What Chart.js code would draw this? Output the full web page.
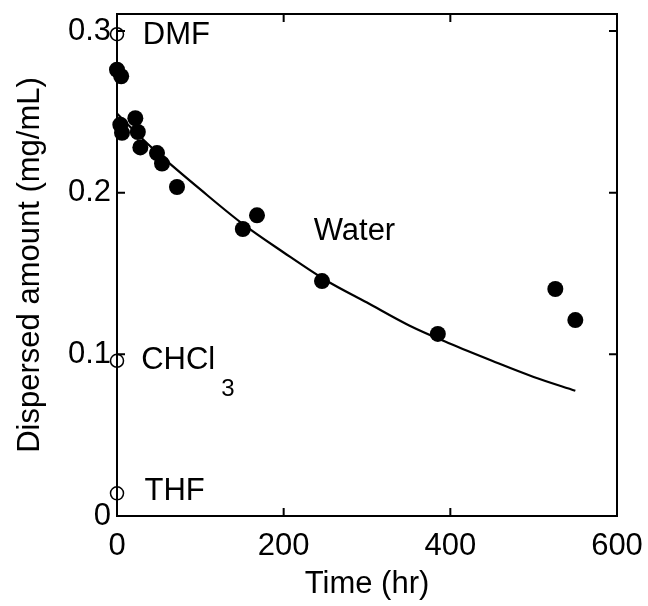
<!DOCTYPE html>
<html>
<head>
<meta charset="utf-8">
<script src="https://cdn.jsdelivr.net/npm/chart.js@4.4.1/dist/chart.umd.min.js"></script>
<style>
  html, body { margin: 0; padding: 0; background: #fff; }
</style>
</head>
<body>
<canvas id="myChart" width="648" height="606"></canvas>
<script>
// dispersed amount in water vs time (filled dots)
const waterTime = [0, 5, 4, 6, 22, 25, 28, 48, 54, 72, 151, 168, 246, 385, 526, 550];
const waterAmount = [0.276, 0.272, 0.242, 0.237, 0.246, 0.2375, 0.228, 0.2245, 0.218, 0.2035, 0.1775, 0.186, 0.1453, 0.1126, 0.1404, 0.1212];

// organic solvents at t = 0 (open circles)
const solventNames = ["DMF", "CHCl", "THF"];
const solventTime = [0, 0, 0];
const solventAmount = [0.298, 0.096, 0.014];

// fitted curve
const fitTime = [0, 25, 50, 100, 150, 200, 250, 300, 350, 400, 450, 500, 550];
const fitAmount = [0.249, 0.236, 0.224, 0.202, 0.181, 0.163, 0.146, 0.132, 0.118, 0.1065, 0.096, 0.086, 0.0775];

const xTicks = [0, 200, 400, 600];
const yTicks = [0, 0.1, 0.2, 0.3];
const yTickLabels = ["0", "0.1", "0.2", "0.3"];

const FONT = "'Liberation Sans', Arial, Helvetica, sans-serif";

function pts(xs, ys) {
  return xs.map((x, i) => ({ x: x, y: ys[i] }));
}

// frame with inward ticks on all four sides, plus the text labels
const framePlugin = {
  id: "frame",
  afterDraw(chart) {
    const c = chart.ctx;
    const a = chart.chartArea;
    const xs = chart.scales.x;
    const ys = chart.scales.y;
    c.save();
    c.strokeStyle = "#000";
    c.lineWidth = 2;
    c.strokeRect(a.left, a.top, a.right - a.left, a.bottom - a.top);
    c.beginPath();
    xTicks.forEach((v) => {
      const px = xs.getPixelForValue(v);
      c.moveTo(px, a.bottom);
      c.lineTo(px, a.bottom - 8);
      c.moveTo(px, a.top);
      c.lineTo(px, a.top + 8);
    });
    yTicks.forEach((v) => {
      const py = ys.getPixelForValue(v);
      c.moveTo(a.left, py);
      c.lineTo(a.left + 8, py);
      c.moveTo(a.right, py);
      c.lineTo(a.right - 8, py);
    });
    c.stroke();

    c.fillStyle = "#000";
    c.textBaseline = "middle";
    c.textAlign = "left";
    c.font = "31px " + FONT;
    c.fillText(solventNames[0], xs.getPixelForValue(31), ys.getPixelForValue(0.297));
    c.fillText(solventNames[2], xs.getPixelForValue(33), ys.getPixelForValue(0.015));
    c.fillText("Water", xs.getPixelForValue(236), ys.getPixelForValue(0.176));
    const cx = xs.getPixelForValue(29);
    const cy = ys.getPixelForValue(0.096);
    c.fillText(solventNames[1], cx, cy);
    const w = c.measureText(solventNames[1]).width;
    c.font = "24px " + FONT;
    c.fillText("3", cx + w + 6, cy + 29);
    c.restore();
  },
};

const ctx = document.getElementById("myChart");
new Chart(ctx, {
  type: "scatter",
  data: {
    datasets: [
      {
        label: "fit",
        data: pts(fitTime, fitAmount),
        showLine: true,
        borderColor: "#000",
        borderWidth: 2.2,
        pointRadius: 0,
        cubicInterpolationMode: "monotone",
        fill: false,
        clip: false,
      },
      {
        label: "Water",
        data: pts(waterTime, waterAmount),
        pointRadius: 8,
        pointBackgroundColor: "#000",
        pointBorderColor: "#000",
        pointBorderWidth: 0,
        clip: false,
      },
      {
        label: "solvents",
        data: pts(solventTime, solventAmount),
        pointRadius: 6.5,
        pointBackgroundColor: "rgba(0,0,0,0)",
        pointBorderColor: "#000",
        pointBorderWidth: 1.5,
        clip: false,
      },
    ],
  },
  options: {
    responsive: false,
    animation: false,
    events: [],
    layout: { padding: { left: 0, right: 31, top: 14, bottom: 0 } },
    plugins: {
      legend: { display: false },
      tooltip: { enabled: false },
    },
    scales: {
      x: {
        type: "linear",
        min: 0,
        max: 600,
        afterFit(scale) {
          scale.height = 90;
          scale.paddingLeft = 0;
          scale.paddingRight = 0;
        },
        afterBuildTicks(scale) { scale.ticks = xTicks.map((v) => ({ value: v })); },
        grid: { display: false, drawTicks: false },
        border: { display: false },
        ticks: {
          color: "#000",
          padding: 12,
          maxRotation: 0,
          font: { family: FONT, size: 31 },
          callback: (v) => String(v),
        },
        title: {
          display: true,
          text: "Time (hr)",
          color: "#000",
          font: { family: FONT, size: 31 },
          padding: { top: 0, bottom: 3 },
        },
      },
      y: {
        type: "linear",
        min: 0,
        max: 0.3105,
        afterFit(scale) {
          scale.width = 117;
          scale.paddingTop = 0;
          scale.paddingBottom = 0;
        },
        afterBuildTicks(scale) { scale.ticks = yTicks.map((v) => ({ value: v })); },
        grid: { display: false, drawTicks: false },
        border: { display: false },
        ticks: {
          color: "#000",
          padding: 6,
          font: { family: FONT, size: 31 },
          callback: (v, i) => yTickLabels[i],
        },
        title: {
          display: true,
          text: "Dispersed amount (mg/mL)",
          color: "#000",
          font: { family: FONT, size: 31 },
          padding: { top: 12, bottom: 0 },
        },
      },
    },
  },
  plugins: [framePlugin],
});
</script>
</body>
</html>
